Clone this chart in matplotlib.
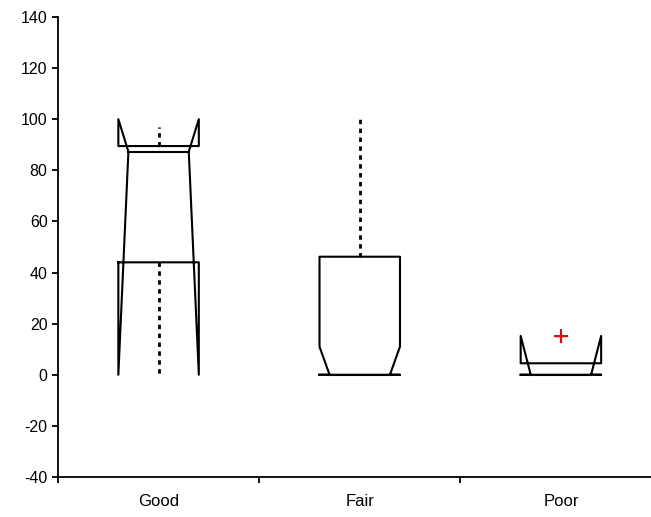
import matplotlib
matplotlib.use("Agg")
import matplotlib.pyplot as plt
import numpy as np

plt.rcParams['font.family'] = ['Liberation Sans', 'DejaVu Sans']
plt.rcParams['axes.unicode_minus'] = False

# box statistics
categories = ['Good', 'Fair', 'Poor']
q1 = [44.0, 0.0, 0.0]
medians = [87.3, 0.0, 0.0]
q3 = [89.5, 46.2, 4.5]
notch_lo = [0.0, 0.0, 0.0]
notch_hi = [100.0, 11.0, 15.2]
whisker_lo = [0.0, 0.0, 0.0]
whisker_hi = [97.0, 100.0, 4.5]
outliers = [[], [], [15.0]]

half_w = 0.2
notch_d = 0.05

fig = plt.figure(figsize=(6.51, 5.17), dpi=100)
ax = fig.add_axes([58 / 651, 1 - 477 / 517, 603.5 / 651, 460 / 517])

for i in range(len(categories)):
    x = i + 1
    L, R = x - half_w, x + half_w
    # whiskers (dotted)
    ax.plot([x, x], [q3[i], whisker_hi[i]], color='black', lw=2.0,
            linestyle=(0, (1.6, 1.6)), solid_capstyle='butt', zorder=1)
    ax.plot([x, x], [q1[i], whisker_lo[i]], color='black', lw=2.0,
            linestyle=(0, (1.6, 1.6)), solid_capstyle='butt', zorder=1)
    # notched box outline
    bx = [L, L, L + notch_d, L, L, R, R, R - notch_d, R, R, L]
    by = [q1[i], notch_lo[i], medians[i], notch_hi[i], q3[i], q3[i],
          notch_hi[i], medians[i], notch_lo[i], q1[i], q1[i]]
    ax.plot(bx, by, color='black', lw=1.5, zorder=2)
    # median
    ax.plot([L + notch_d, R - notch_d], [medians[i], medians[i]],
            color='black', lw=1.5, zorder=2)
    # outliers
    if outliers[i]:
        ax.plot([x] * len(outliers[i]), outliers[i], '+', color='red',
                markersize=10, mew=1.5, zorder=3)

ax.set_xlim(0.5, 3.5)
ax.set_ylim(-40, 140)
ax.set_yticks(np.arange(-40, 141, 20))
ax.set_xticks([1, 2, 3])
ax.set_xticklabels(categories)
ax.set_xticks([0.5, 1.5, 2.5, 3.5], minor=True)
ax.tick_params(axis='x', which='major', length=0, pad=12, labelsize=12)
ax.tick_params(axis='x', which='minor', length=4, width=1.3, direction='out')
ax.tick_params(axis='y', length=4, width=1.3, direction='out', labelsize=11.5)
ax.spines['top'].set_visible(False)
ax.spines['right'].set_visible(False)
ax.spines['left'].set_linewidth(1.3)
ax.spines['bottom'].set_linewidth(1.3)

fig.savefig('out.png', dpi=100)
